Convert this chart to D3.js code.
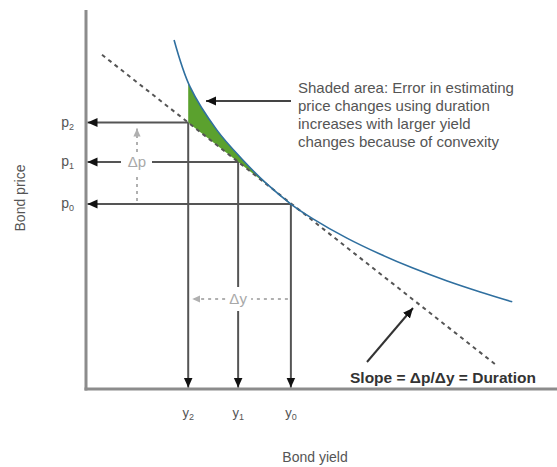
<!DOCTYPE html>
<html>
<head>
<meta charset="utf-8">
<script src="https://cdn.jsdelivr.net/npm/d3@7/dist/d3.min.js"></script>
<style>
  html, body { margin: 0; padding: 0; background: #fff; }
  svg { display: block; font-family: "Liberation Sans", Arial, sans-serif; }
</style>
</head>
<body>
<svg id="chart" width="557" height="467"></svg>
<script>
// ---- data (yield in arbitrary units on x, price on y) ----
const curveYield = [1.87, 2.21, 2.78, 3.31, 3.84, 4.35, 4.82, 5.54, 6.24, 6.94, 7.67, 8.37, 9.05];
const curvePrice = [9.21, 7.97, 6.83, 6.07, 5.41, 4.88, 4.49, 3.98, 3.56, 3.19, 2.85, 2.56, 2.30];
const tangentYield = [0.34, 8.68];
const tangentPrice = [8.82, 0.66];
const yieldLevels = [2.17, 3.23, 4.35];      // y2, y1, y0
const priceLevels = [7.03, 5.99, 4.88];      // p2, p1, p0
const levelSubs = ["2", "1", "0"];
const annotationLines = [
  "Shaded area: Error in estimating",
  "price changes using duration",
  "increases with larger yield",
  "changes because of convexity"
];
const slopeLabel = "Slope = \u0394p/\u0394y = Duration";
const xTitle = "Bond yield";
const yTitle = "Bond price";

// ---- scales ----
const svg = d3.select("#chart");
const x = d3.scaleLinear().domain([0, 10]).range([86, 557]);
const y = d3.scaleLinear().domain([0, 10]).range([389, 10]);

const defs = svg.append("defs");
function marker(id, color, size) {
  defs.append("marker")
    .attr("id", id).attr("viewBox", "0 0 10 10")
    .attr("refX", 10).attr("refY", 5)
    .attr("markerWidth", size).attr("markerHeight", size)
    .attr("markerUnits", "userSpaceOnUse").attr("orient", "auto")
    .append("path").attr("d", "M0,0.5 L10,5 L0,9.5 z").attr("fill", color);
}
marker("arrowDark", "#111", 10);
marker("arrowLight", "#b0b0b0", 8);

const tangentAt = v => tangentPrice[0] + (v - tangentYield[0]) *
  (tangentPrice[1] - tangentPrice[0]) / (tangentYield[1] - tangentYield[0]);

const curvePts = curveYield.map((v, i) => [v, curvePrice[i]]);
const lineGen = d3.line().x(d => x(d[0])).y(d => y(d[1])).curve(d3.curveCatmullRom.alpha(0.5));

// ---- shaded error area (between convex curve and tangent, from y2 to y0) ----
defs.append("clipPath").attr("id", "shadeClip")
  .append("rect")
  .attr("x", x(yieldLevels[0])).attr("y", 0)
  .attr("width", x(yieldLevels[2]) - x(yieldLevels[0])).attr("height", 467);

const first = curvePts[0], last = curvePts[curvePts.length - 1];
const shadeD = lineGen(curvePts) +
  "L" + x(last[0]) + "," + y(tangentAt(last[0])) +
  "L" + x(first[0]) + "," + y(tangentAt(first[0])) + "Z";
svg.append("path").attr("d", shadeD)
  .attr("fill", "#5ba12e").attr("clip-path", "url(#shadeClip)");

// ---- axes ----
svg.append("line").attr("x1", x(0)).attr("x2", x(0)).attr("y1", y(10)).attr("y2", y(0) + 1.5)
  .attr("stroke", "#8c8c8c").attr("stroke-width", 3);
svg.append("line").attr("x1", x(0) - 1.5).attr("x2", x(10)).attr("y1", y(0)).attr("y2", y(0))
  .attr("stroke", "#8c8c8c").attr("stroke-width", 3);

// ---- tangent (duration) line ----
svg.append("line")
  .attr("x1", x(tangentYield[0])).attr("y1", y(tangentPrice[0]))
  .attr("x2", x(tangentYield[1])).attr("y2", y(tangentPrice[1]))
  .attr("stroke", "#555").attr("stroke-width", 2).attr("stroke-dasharray", "4,4");

// ---- price/yield arrows ----
const gapLeft = 121, gapRight = 152; // gap in p1 line for the Δp label (pixels)
yieldLevels.forEach((v, i) => {
  const px = x(v), py = y(priceLevels[i]);
  svg.append("line").attr("x1", px).attr("x2", px).attr("y1", py).attr("y2", y(0) - 1.5)
    .attr("stroke", "#555").attr("stroke-width", 2)
    .attr("marker-end", "url(#arrowDark)");
  if (i === 1) {
    svg.append("line").attr("x1", px).attr("x2", gapRight).attr("y1", py).attr("y2", py)
      .attr("stroke", "#555").attr("stroke-width", 2);
    svg.append("line").attr("x1", gapLeft).attr("x2", x(0) + 1.5).attr("y1", py).attr("y2", py)
      .attr("stroke", "#555").attr("stroke-width", 2).attr("marker-end", "url(#arrowDark)");
  } else {
    svg.append("line").attr("x1", px).attr("x2", x(0) + 1.5).attr("y1", py).attr("y2", py)
      .attr("stroke", "#555").attr("stroke-width", 2).attr("marker-end", "url(#arrowDark)");
  }
});

// white gap on the y1 vertical for the Δy label
const dyY = 299;
svg.append("rect").attr("x", x(yieldLevels[1]) - 3).attr("y", dyY - 12).attr("width", 6).attr("height", 24)
  .attr("fill", "#fff");

// ---- bond price curve ----
svg.append("path").attr("d", lineGen(curvePts))
  .attr("fill", "none").attr("stroke", "#2f6f9f").attr("stroke-width", 1.6);

// ---- Δp dotted arrow ----
const dpX = 137;
svg.append("line").attr("x1", dpX).attr("x2", dpX).attr("y1", y(priceLevels[2]) - 3).attr("y2", 173)
  .attr("stroke", "#b0b0b0").attr("stroke-width", 2).attr("stroke-dasharray", "3,4");
svg.append("line").attr("x1", dpX).attr("x2", dpX).attr("y1", 152).attr("y2", y(priceLevels[0]) + 6)
  .attr("stroke", "#b0b0b0").attr("stroke-width", 2).attr("stroke-dasharray", "3,4")
  .attr("marker-end", "url(#arrowLight)");
svg.append("text").attr("x", dpX).attr("y", y(priceLevels[1]) + 5).attr("text-anchor", "middle")
  .attr("font-size", 15).attr("fill", "#a8a8a8").text("\u0394p");

// ---- Δy dotted arrow ----
svg.append("line").attr("x1", x(yieldLevels[2]) - 3).attr("x2", x(yieldLevels[1]) + 13).attr("y1", dyY).attr("y2", dyY)
  .attr("stroke", "#b0b0b0").attr("stroke-width", 2).attr("stroke-dasharray", "3,4");
svg.append("line").attr("x1", x(yieldLevels[1]) - 13).attr("x2", x(yieldLevels[0]) + 4).attr("y1", dyY).attr("y2", dyY)
  .attr("stroke", "#b0b0b0").attr("stroke-width", 2).attr("stroke-dasharray", "3,4")
  .attr("marker-end", "url(#arrowLight)");
svg.append("text").attr("x", x(yieldLevels[1])).attr("y", dyY + 5).attr("text-anchor", "middle")
  .attr("font-size", 15).attr("fill", "#a8a8a8").text("\u0394y");

// ---- tick labels ----
yieldLevels.forEach((v, i) => {
  const t = svg.append("text").attr("x", x(v)).attr("y", 417).attr("text-anchor", "middle")
    .attr("font-size", 13).attr("fill", "#555");
  t.append("tspan").text("y");
  t.append("tspan").attr("font-size", 9).attr("dy", 3).text(levelSubs[i]);
});
priceLevels.forEach((v, i) => {
  const t = svg.append("text").attr("x", 74).attr("y", y(v) + 4).attr("text-anchor", "end")
    .attr("font-size", 14).attr("fill", "#555");
  t.append("tspan").text("p");
  t.append("tspan").attr("font-size", 9).attr("dy", 3).text(levelSubs[i]);
});

// ---- axis titles ----
svg.append("text").attr("x", 315).attr("y", 462).attr("text-anchor", "middle")
  .attr("font-size", 14).attr("fill", "#555").text(xTitle);
svg.append("text").attr("transform", "translate(25,198) rotate(-90)").attr("text-anchor", "middle")
  .attr("font-size", 14).attr("fill", "#555").text(yTitle);

// ---- annotation: shaded area ----
svg.append("line").attr("x1", 291).attr("x2", 206).attr("y1", 101).attr("y2", 101)
  .attr("stroke", "#444").attr("stroke-width", 2).attr("marker-end", "url(#arrowDark)");
const ann = svg.append("text").attr("x", 298).attr("y", 93).attr("font-size", 15).attr("fill", "#555");
annotationLines.forEach((l, i) => {
  ann.append("tspan").attr("x", 298).attr("dy", i === 0 ? 0 : 18).text(l);
});

// ---- annotation: slope ----
svg.append("line").attr("x1", 367).attr("y1", 362).attr("x2", 413).attr("y2", 308)
  .attr("stroke", "#333").attr("stroke-width", 2).attr("marker-end", "url(#arrowDark)");
svg.append("text").attr("x", 350).attr("y", 383).attr("font-size", 15.5).attr("font-weight", "bold")
  .attr("fill", "#333").text(slopeLabel);
</script>
</body>
</html>
